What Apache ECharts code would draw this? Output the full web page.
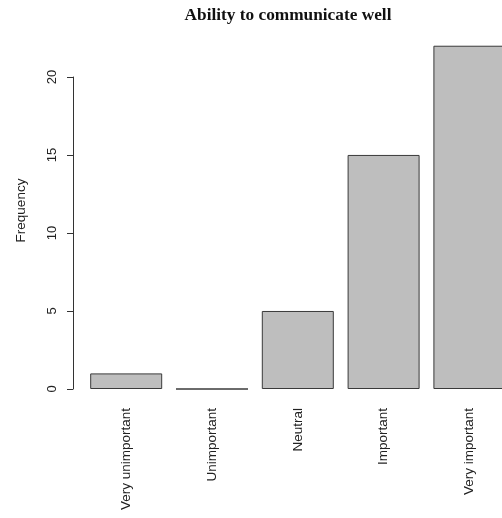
<!DOCTYPE html>
<html>
<head>
<meta charset="utf-8">
<script src="https://cdn.jsdelivr.net/npm/echarts@6/dist/echarts.min.js"></script>
<style>
  html, body { margin: 0; padding: 0; background: #ffffff; }
  #chart { width: 502px; height: 518px; }
</style>
</head>
<body>
<div id="chart"></div>
<script>
// Survey answers for "Ability to communicate well"
const categories = ['Very unimportant', 'Unimportant', 'Neutral', 'Important', 'Very important'];
const frequencies = [1, 0, 5, 15, 22];
const yTickMax = 20;
const yTickStep = 5;

const chart = echarts.init(document.getElementById('chart'), null, { renderer: 'canvas' });

const plotLeft = 83.3;
const plotWidth = 429;
const plotBottom = 129;
const valueMax = 22.88; // 4% headroom above the tallest bar
const textColor = '#222222';
const sansFont = '"Liberation Sans", Arial, sans-serif';

chart.setOption({
  backgroundColor: '#ffffff',
  animation: false,
  graphic: [{
    type: 'text',
    x: 288,
    y: 16,
    style: {
      text: 'Ability to communicate well',
      font: 'bold 17.3px "Liberation Serif", "Times New Roman", serif',
      fill: '#111111',
      align: 'center',
      verticalAlign: 'middle'
    }
  }],
  grid: [
    { left: plotLeft, width: plotWidth, top: 32, bottom: plotBottom, outerBoundsMode: 'none', containLabel: false },
    { left: plotLeft, width: plotWidth, top: 77, bottom: plotBottom, outerBoundsMode: 'none', containLabel: false }
  ],
  xAxis: [{
    gridIndex: 0,
    type: 'category',
    data: categories,
    boundaryGap: true,
    axisLine: { show: false },
    axisTick: { show: false },
    axisLabel: {
      rotate: 90,
      margin: 19,
      interval: 0,
      color: textColor,
      fontFamily: sansFont,
      fontSize: 13.5
    }
  }, {
    gridIndex: 1,
    type: 'category',
    data: categories,
    show: false
  }],
  yAxis: [{
    gridIndex: 0,
    type: 'value',
    min: 0,
    max: valueMax,
    name: 'Frequency',
    nameLocation: 'middle',
    nameGap: 55,
    nameTextStyle: {
      color: textColor,
      fontFamily: sansFont,
      fontSize: 13.5
    },
    axisLine: { show: false },
    axisTick: { show: false },
    axisLabel: { show: false },
    splitLine: { show: false }
  }, {
    gridIndex: 1,
    type: 'value',
    min: 0,
    max: yTickMax,
    interval: yTickStep,
    offset: 10.3,
    axisLine: { show: true, lineStyle: { color: '#333333', width: 1 } },
    axisTick: { show: true, length: 6, lineStyle: { color: '#333333', width: 1 } },
    axisLabel: {
      rotate: 90,
      margin: 14,
      color: textColor,
      fontFamily: sansFont,
      fontSize: 13
    },
    splitLine: { show: false }
  }],
  series: [{
    type: 'bar',
    xAxisIndex: 0,
    yAxisIndex: 0,
    data: frequencies,
    barWidth: 72,
    itemStyle: {
      color: '#bebebe',
      borderColor: '#3a3a3a',
      borderWidth: 1
    },
    silent: true
  }]
});
</script>
</body>
</html>
